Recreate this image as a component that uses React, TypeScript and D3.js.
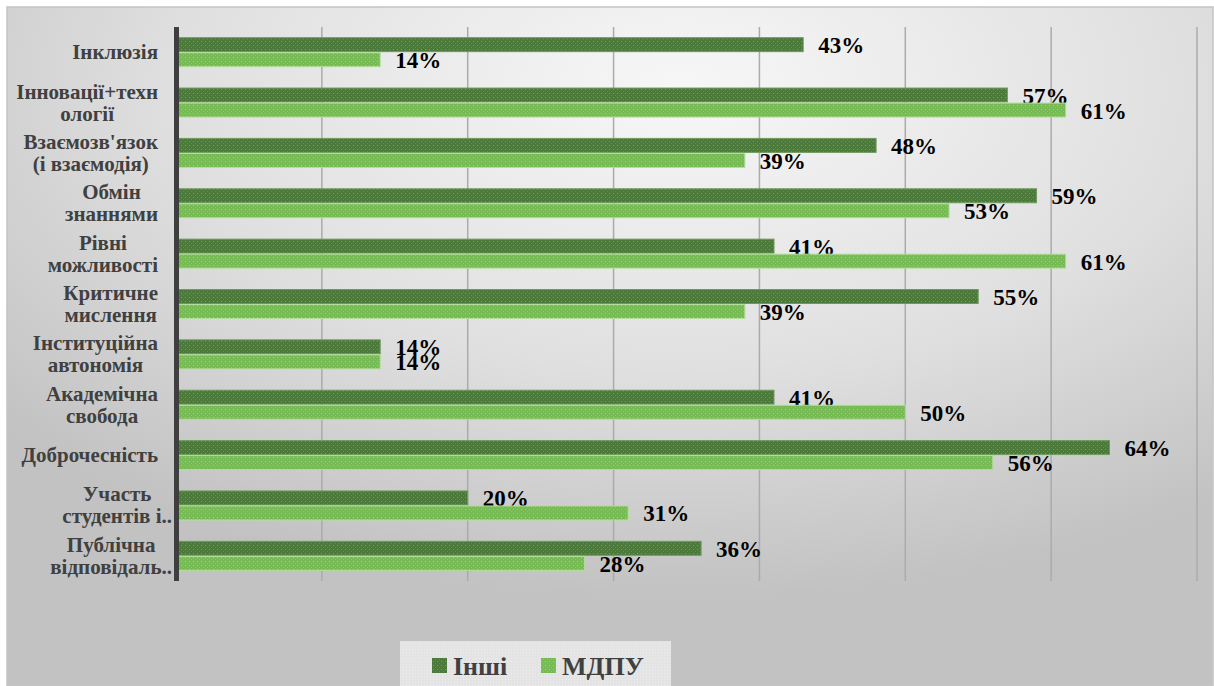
import React from 'react';
import * as d3 from 'd3';

// category labels as Excel wraps them on the axis
const categories = [
  'Інклюзія',
  'Інновації+технології',
  "Взаємозв'язок (і взаємодія)",
  'Обмін знаннями',
  'Рівні можливості',
  'Критичне мислення',
  'Інституційна автономія',
  'Академічна свобода',
  'Доброчесність',
  'Участь студентів і..',
  'Публічна відповідаль..',
];
const categoryLines = [
  ['Інклюзія'],
  ['Інновації+техн', 'ології'],
  ["Взаємозв'язок", '(і взаємодія)'],
  ['Обмін', 'знаннями'],
  ['Рівні', 'можливості'],
  ['Критичне', 'мислення'],
  ['Інституційна', 'автономія'],
  ['Академічна', 'свобода'],
  ['Доброчесність'],
  ['Участь', 'студентів і..'],
  ['Публічна', 'відповідаль..'],
];
const series = ['Інші', 'МДПУ'];
const inshi = [43, 57, 48, 59, 41, 55, 14, 41, 64, 20, 36];
const mdpu = [14, 61, 39, 53, 61, 39, 14, 50, 56, 31, 28];
const xTicks = [0, 10, 20, 30, 40, 50, 60, 70];

const W = 1214;
const H = 686;
const SERIF = "'Liberation Serif', 'Times New Roman', serif";

let ctx: CanvasRenderingContext2D | null = null;
function textWidth(s: string, font: string) {
  if (!ctx) ctx = document.createElement('canvas').getContext('2d');
  if (!ctx) return s.length * 10;
  ctx.font = font;
  return ctx.measureText(s).width;
}

export default function App() {
  const x = d3.scaleLinear().domain([0, 70]).range([176, 1197]);
  const y = d3.scaleBand<string>().domain(categories).range([27, 581]);
  const inner = d3
    .scaleBand<string>()
    .domain(series)
    .range([-14.5, 14.5])
    .paddingInner(0.07);

  const values = [inshi, mdpu];
  const fills = ['url(#patDark)', 'url(#patLight)'];
  const strokes = ['#6f9a5c', '#b4de9c'];
  const labelSize = 21;
  const labelFont = `bold ${labelSize}px ${SERIF}`;

  return (
    <div style={{ position: 'absolute', left: 0, top: 0, width: W, height: H }}>
      <svg width={W} height={H} style={{ display: 'block' }}>
        <defs>
          <radialGradient id="bg" cx="0.56" cy="0.12" r="0.75" fx="0.56" fy="0.12">
            <stop offset="0" stopColor="#f7f7f7" />
            <stop offset="0.55" stopColor="#e0e0e0" />
            <stop offset="1" stopColor="#c2c2c2" />
          </radialGradient>
          <pattern id="patDark" width="4" height="4" patternUnits="userSpaceOnUse">
            <rect width="4" height="4" fill="#4b7a3a" />
            <rect x="1" y="1" width="1" height="1" fill="#73a05e" />
            <rect x="3" y="3" width="1" height="1" fill="#5f8c4b" />
          </pattern>
          <pattern id="patLight" width="4" height="4" patternUnits="userSpaceOnUse">
            <rect width="4" height="4" fill="#76bb53" />
            <rect x="1" y="1" width="1" height="1" fill="#9fd382" />
            <rect x="3" y="3" width="1" height="1" fill="#88c567" />
          </pattern>
          <pattern id="patLegend" width="3" height="3" patternUnits="userSpaceOnUse">
            <rect width="3" height="3" fill="#e4e4e4" />
            <rect x="1" y="1" width="1" height="1" fill="#ececec" />
          </pattern>
        </defs>

        <rect x={7} y={7} width={1206} height={H - 7} fill="url(#bg)" stroke="#c4c4c4" strokeWidth={1.5} />

        {/* vertical gridlines */}
        {xTicks.slice(1).map(t => (
          <line
            key={t}
            x1={x(t)}
            x2={x(t)}
            y1={27}
            y2={581}
            stroke="#ababab"
            strokeWidth={1.5}
          />
        ))}

        {/* bars */}
        {categories.map((c, i) => {
          const cy = (y(c) ?? 0) + y.bandwidth() / 2;
          return series.map((s, k) => {
            const v = values[k][i];
            const by = cy + (inner(s) ?? 0);
            return (
              <g key={c + s}>
                <rect
                  x={x(0)}
                  y={by}
                  width={x(v) - x(0)}
                  height={inner.bandwidth()}
                  fill={fills[k]}
                  stroke={strokes[k]}
                  strokeWidth={1}
                />
                <text
                  x={x(v) + 15}
                  y={by + inner.bandwidth() / 2 + 1}
                  dominantBaseline="central"
                  fontFamily={SERIF}
                  fontWeight="bold"
                  fontSize={23}
                  fill="#000"
                >
                  {v}%
                </text>
              </g>
            );
          });
        })}

        {/* category axis */}
        <line x1={176.5} x2={176.5} y1={27} y2={581} stroke="#3f3f3f" strokeWidth={5} />
        {categories.map((c, i) => {
          const lines = categoryLines[i];
          const cy = (y(c) ?? 0) + y.bandwidth() / 2;
          const maxW = d3.max(lines, l => textWidth(l, labelFont)) ?? 0;
          const right = lines[lines.length - 1].endsWith('..') ? 172 : 158;
          const cx = right - maxW / 2;
          const lh = 22;
          const top = cy - ((lines.length - 1) * lh) / 2;
          return (
            <text
              key={c}
              textAnchor="middle"
              fontFamily={SERIF}
              fontWeight="bold"
              fontSize={labelSize}
              fill="#404040"
            >
              {lines.map((l, j) => (
                <tspan key={j} x={cx} y={top + j * lh} dominantBaseline="central">
                  {l}
                </tspan>
              ))}
            </text>
          );
        })}

        {/* legend */}
        <rect x={400} y={641} width={271} height={H - 641} fill="url(#patLegend)" />
        {series.map((s, k) => {
          const lx = [432, 541][k];
          return (
            <g key={s}>
              <rect x={lx} y={658} width={15} height={15} fill={fills[k]} />
              <text
                x={lx + 21}
                y={666}
                dominantBaseline="central"
                fontFamily={SERIF}
                fontWeight="bold"
                fontSize={26}
                fill="#404040"
              >
                {s}
              </text>
            </g>
          );
        })}
      </svg>
    </div>
  );
}
